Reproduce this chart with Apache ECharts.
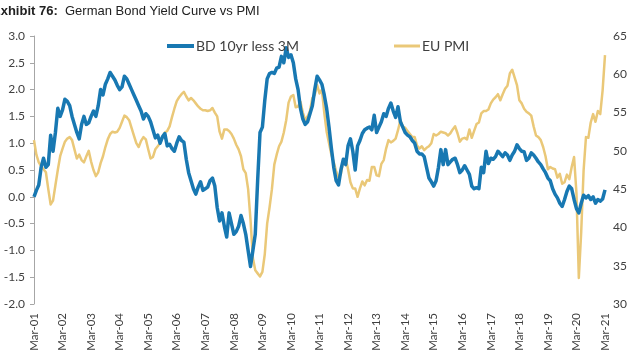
<!DOCTYPE html>
<html><head><meta charset="utf-8">
<script src="https://cdn.jsdelivr.net/npm/echarts@6/dist/echarts.min.js"></script>
<style>html,body{margin:0;padding:0;background:#fff}#c{width:640px;height:360px}</style>
</head><body><div id="c"></div>
<script>
// Monthly observations, Mar-01 .. Mar-21
var monthNames = ['Jan','Feb','Mar','Apr','May','Jun','Jul','Aug','Sep','Oct','Nov','Dec'];
var startYear = 2001, startMonthIdx = 2, nMonths = 241;

var bdSpread = [
 0.0,0.12,0.22,0.55,0.72,0.55,0.6,1.15,0.85,1.2,1.65,1.5,
 1.62,1.82,1.78,1.7,1.5,1.35,1.2,1.08,1.35,1.5,1.35,1.38,
 1.5,1.6,1.5,1.7,2.0,1.9,2.1,2.2,2.32,2.25,2.18,2.08,
 2.0,2.05,2.25,2.2,2.1,2.0,1.9,1.8,1.7,1.6,1.45,1.55,
 1.5,1.4,1.25,1.1,1.15,1.0,1.12,1.18,0.95,0.98,0.9,0.85,
 1.0,1.12,1.05,1.02,0.7,0.45,0.3,0.15,0.05,0.18,0.28,0.12,
 0.15,0.18,0.3,0.35,0.2,-0.2,-0.45,-0.3,-0.55,-0.75,-0.3,-0.5,
 -0.7,-0.65,-0.55,-0.35,-0.5,-0.7,-1.0,-1.3,-1.0,-0.7,0.3,1.2,
 1.3,1.8,2.2,2.3,2.32,2.3,2.4,2.42,2.62,2.5,2.78,2.6,
 2.65,2.5,2.2,2.0,1.65,1.45,1.35,1.4,1.55,1.7,2.0,2.25,
 2.18,2.1,1.9,1.65,1.3,0.9,0.55,0.3,0.22,0.5,0.7,0.6,
 0.95,1.08,0.85,0.5,0.95,1.05,1.18,1.25,1.28,1.3,1.25,1.52,
 1.2,1.3,1.4,1.55,1.5,1.65,1.75,1.6,1.48,1.68,1.4,1.3,
 1.2,1.15,1.12,1.05,1.0,0.85,0.8,0.8,0.75,0.55,0.35,0.28,
 0.2,0.3,0.55,0.88,0.6,0.88,0.6,0.65,0.7,0.72,0.6,0.45,
 0.5,0.58,0.5,0.42,0.2,0.15,0.17,0.15,0.55,0.45,0.85,0.62,
 0.72,0.7,0.75,0.85,0.8,0.75,0.82,0.78,0.68,0.78,0.85,0.97,
 0.9,0.85,0.84,0.68,0.72,0.82,0.78,0.72,0.65,0.6,0.52,0.45,
 0.35,0.3,0.15,0.05,-0.02,-0.12,-0.18,-0.05,0.1,0.2,0.15,-0.05,
 -0.22,-0.3,-0.12,0.03,-0.02,0.02,-0.05,0.0,-0.12,-0.05,-0.08,-0.04,
 0.13
];

var euPmi = [
 51.4,49.5,48.5,48.0,47.6,47.2,45.0,43.0,43.5,45.5,47.5,49.3,
 50.3,51.2,51.6,51.8,51.4,50.2,49.0,49.5,48.8,48.5,49.3,50.0,
 48.6,47.5,46.7,47.2,48.4,49.3,50.5,51.5,52.2,52.5,52.4,52.5,
 53.0,53.8,54.6,54.4,54.0,53.0,52.0,51.0,50.5,51.3,51.8,51.5,
 50.2,49.0,49.2,50.2,50.6,51.0,51.8,52.4,52.6,53.2,54.4,55.5,
 56.5,57.0,57.4,57.7,57.1,56.6,56.9,56.6,56.2,55.8,55.5,55.3,
 55.3,55.2,55.3,55.6,55.0,54.5,52.5,51.6,52.8,52.8,52.6,52.2,
 51.6,50.8,50.2,49.3,47.6,47.1,45.0,41.0,36.0,34.4,34.0,33.6,
 34.2,36.5,40.5,42.6,45.0,48.2,49.5,50.6,51.2,52.4,54.0,56.3,
 57.1,57.3,55.7,55.8,56.4,55.0,54.0,54.5,55.2,56.9,57.3,58.6,
 57.5,58.0,55.0,52.5,51.0,49.5,48.5,47.3,46.5,47.0,48.8,49.0,
 47.6,45.9,45.1,45.1,44.0,45.1,46.0,45.5,46.2,46.1,47.9,47.9,
 46.8,46.7,48.3,48.8,50.3,51.4,51.1,51.3,51.6,52.7,54.0,53.2,
 53.0,52.6,52.2,51.8,51.8,50.7,50.3,50.6,50.1,50.4,50.6,51.0,
 52.2,52.0,52.2,52.5,52.4,52.3,52.0,52.3,52.8,53.2,52.3,51.2,
 51.6,51.7,51.5,52.8,51.7,52.6,53.5,53.7,54.9,55.2,55.2,55.4,
 56.2,56.7,57.0,57.4,56.6,57.4,58.1,58.5,60.1,60.6,59.6,58.6,
 56.6,56.2,55.5,55.1,54.9,54.6,53.2,52.0,51.8,51.4,50.5,49.3,
 47.6,47.9,47.7,47.6,46.5,47.0,45.7,45.9,46.9,46.3,47.9,49.2,
 44.5,33.4,39.4,47.4,51.8,51.7,53.7,54.8,53.8,55.2,54.8,57.9,
 62.5
];

var categories = [];
for (var i = 0; i < nMonths; i++) {
  var mi = (startMonthIdx + i) % 12;
  var yr = startYear + Math.floor((startMonthIdx + i) / 12);
  categories.push(monthNames[mi] + '-' + String(yr % 100).padStart(2, '0'));
}

var seriesNames = ['BD 10yr less 3M', 'EU PMI'];
var colors = ['#1878B2', '#EAC878'];
var leftTicks = {min: -2, max: 3, interval: 0.5};
var rightTicks = {min: 30, max: 65, interval: 5};

var chart = echarts.init(document.getElementById('c'), null, {renderer: 'canvas'});
var txt = '#404040';
chart.setOption({
  animation: false,
  backgroundColor: '#fff',
  graphic: [{
    type: 'text', left: -8, top: 5,
    style: {
      text: '{b|Exhibit 76:}  German Bond Yield Curve vs PMI',
      fontFamily: 'Liberation Sans', fontSize: 13, fill: '#222',
      rich: {b: {fontFamily: 'Liberation Sans', fontSize: 13, fontWeight: 'bold', fill: '#222'}}
    }
  }],
  legend: [
    {data: [seriesNames[0]], left: 162, top: 34, icon: 'rect', itemWidth: 27, itemHeight: 4,
     itemGap: 0, textStyle: {fontFamily: 'Lato', fontSize: 14, color: txt, padding: [0,0,0,-3]}},
    {data: [seriesNames[1]], left: 389, top: 34, icon: 'rect', itemWidth: 26, itemHeight: 3,
     itemGap: 0, textStyle: {fontFamily: 'Lato', fontSize: 14, color: txt, padding: [0,0,0,-3]}}
  ],
  grid: {left: 34, right: 35, top: 36, bottom: 56, containLabel: false},
  xAxis: {
    type: 'category', data: categories, boundaryGap: false,
    axisLine: {show: false}, axisTick: {show: false},
    axisLabel: {
      rotate: 90, interval: 11, margin: 9,
      fontFamily: 'Lato', fontSize: 11.5, color: txt
    },
    splitLine: {show: false}
  },
  yAxis: [
    {type: 'value', min: leftTicks.min, max: leftTicks.max, interval: leftTicks.interval,
     axisLine: {show: true, lineStyle: {color: '#a6a6a6', width: 1}},
     axisTick: {show: true, length: 4, lineStyle: {color: '#a6a6a6'}},
     splitLine: {show: false},
     axisLabel: {formatter: function (v) { return v.toFixed(1); }, margin: 9,
                 fontFamily: 'Lato', fontSize: 12, color: txt}},
    {type: 'value', min: rightTicks.min, max: rightTicks.max, interval: rightTicks.interval,
     axisLine: {show: false}, axisTick: {show: false}, splitLine: {show: false},
     axisLabel: {margin: 8, fontFamily: 'Lato', fontSize: 12, color: txt}}
  ],
  series: [
    {name: seriesNames[0], type: 'line', data: bdSpread, yAxisIndex: 0, showSymbol: false,
     symbol: 'none', z: 3, color: colors[0], lineStyle: {width: 3.5, color: colors[0], join: 'round'}},
    {name: seriesNames[1], type: 'line', data: euPmi, yAxisIndex: 1, showSymbol: false,
     symbol: 'none', z: 2, color: colors[1], lineStyle: {width: 2.5, color: colors[1], join: 'round'}}
  ]
});
</script>
</body></html>
